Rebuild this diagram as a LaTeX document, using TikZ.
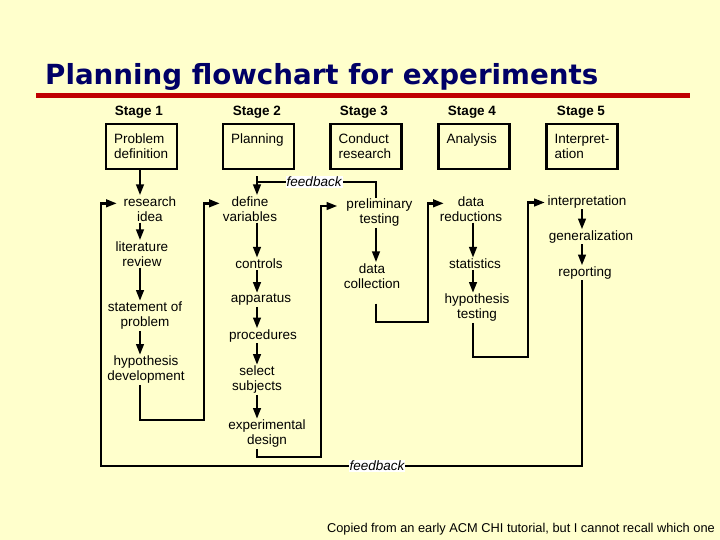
\documentclass[tikz,border=0pt]{standalone}
\usepackage{fontspec}
\setmainfont{Liberation Sans}
\newfontfamily\titlefont{DejaVu Sans}
\usetikzlibrary{arrows.meta,calc}
\definecolor{paper}{HTML}{FFFFCC}
\definecolor{titleblue}{HTML}{000066}
\definecolor{rulered}{HTML}{C00000}
\newcommand\bodysize{\fontsize{13.5}{15}\selectfont}
\tikzset{
  stagehead/.style={font=\bfseries\bodysize, anchor=base, inner sep=0pt},
  stagebox/.style={draw, line width=2.2pt, font=\bodysize, text width=55pt, align=left,
    inner xsep=8pt, inner ysep=4pt, text height=16pt, text depth=21pt},
  task/.style={font=\bodysize, align=center, inner sep=1pt},
  flow/.style={line width=2.6pt, -{Triangle[length=11pt,width=7.5pt]}},
  wire/.style={line width=2.6pt},
  fb/.style={font=\itshape\bodysize, text=black, fill=white, inner sep=1pt}
}
\begin{document}
\begin{tikzpicture}[x=1pt,y=-1pt]
	\fill[paper] (0,0) rectangle (720,540);
	\useasboundingbox (0,0) rectangle (720,540);
	% title and rule
	\node[anchor=base west, inner sep=0pt, text=titleblue,
		font={\titlefont\bfseries\fontsize{27.7}{30}\selectfont}] (title) at (45,85) {Planning flowchart for experiments};
	\draw[rulered, line width=5pt] (36,95.5) -- (690,95.5);
	% stages
	\node[stagehead] (h1) at (139,116) {Stage 1};
	\node[stagehead] (h2) at (257,116) {Stage 2};
	\node[stagehead] (h3) at (364,116) {Stage 3};
	\node[stagehead] (h4) at (472,116) {Stage 4};
	\node[stagehead] (h5) at (581,116) {Stage 5};
	\node[stagebox] (b1) at (141.5,146.5) {\mbox{Problem}\\\mbox{definition}};
	\node[stagebox] (b2) at (258.5,146.5) {Planning};
	\node[stagebox] (b3) at (366,146.5) {Conduct\\research};
	\node[stagebox] (b4) at (474,146.5) {Analysis};
	\node[stagebox] (b5) at (582,146.5) {\mbox{Interpret-}\\ation};
	% columns and corners
	\coordinate (c1) at (140,0);
	\coordinate (c2) at (257,0);
	\coordinate (c3) at (376,0);
	\coordinate (c4) at (473,0);
	\coordinate (c5) at (582,0);
	\coordinate (k1) at (204,420);
	\coordinate (k2) at (321,457);
	\coordinate (k3) at (428,322);
	\coordinate (k4) at (528,357);
	\coordinate (k5) at (101,466);
	\coordinate (fbtop) at (257,182);
	% stage 1
	\node[task] (idea) at (150,209) {research\\idea};
	\node[task] (lit) at (142,254) {literature\\review};
	\node[task] (stmt) at (145,316) {statement of\\problem};
	\node[task] (hypdev) at (146,370) {hypothesis\\development};
	% stage 2
	\node[task] (defvar) at (250,209) {define\\variables};
	\node[task] (ctrl) at (259,264) {controls};
	\node[task] (app) at (261,300) {apparatus};
	\node[task] (proc) at (263,336) {procedures};
	\node[task] (subj) at (257,380) {select\\subjects};
	\node[task] (expdes) at (267,434) {experimental\\design};
	% stage 3
	\node[task] (prelim) at (379.5,213) {preliminary\\testing};
	\node[task] (datacol) at (372,276) {data\\collection};
	% stage 4
	\node[task] (datared) at (471,209) {data\\reductions};
	\node[task] (stats) at (475,264) {statistics};
	\node[task] (hyptest) at (477,308) {hypothesis\\testing};
	% stage 5
	\node[task] (interp) at (587,202) {interpretation};
	\node[task] (general) at (591,237) {generalization};
	\node[task] (report) at (585,273) {reporting};
	% down the columns
	\draw[flow] (c1 |- b1.south) -- (c1 |- idea.north);
	\draw[flow] (c1 |- idea.south) -- (c1 |- lit.north);
	\draw[flow] (c1 |- lit.south) -- (c1 |- stmt.north);
	\draw[flow] (c1 |- stmt.south) -- (c1 |- hypdev.north);
	\draw[flow, shorten <=6pt] (c2 |- b2.south) -- (c2 |- defvar.north);
	\draw[flow] (c2 |- defvar.south) -- (c2 |- ctrl.north);
	\draw[flow] (c2 |- ctrl.south) -- (c2 |- app.north);
	\draw[flow] (c2 |- app.south) -- (c2 |- proc.north);
	\draw[flow] (c2 |- proc.south) -- (c2 |- subj.north);
	\draw[flow] (c2 |- subj.south) -- (c2 |- expdes.north);
	\draw[flow] (c3 |- prelim.south) -- (c3 |- datacol.north);
	\draw[flow] (c4 |- datared.south) -- (c4 |- stats.north);
	\draw[flow] (c4 |- stats.south) -- (c4 |- hyptest.north);
	\draw[flow] (c5 |- interp.south) -- (c5 |- general.north);
	\draw[flow] (c5 |- general.south) -- (c5 |- report.north);
	% on to the next stage
	\draw[flow] (c1 |- hypdev.south) |- (k1) |- ($(defvar.north)+(-30,8)$);
	\draw[flow] (c2 |- expdes.south) |- (k2) |- ($(prelim.north)+(-42,8)$);
	\draw[flow, shorten <=14pt] (c3 |- datacol.south) |- (k3) |- ($(datared.north)+(-27,8)$);
	\draw[flow] (c4 |- hyptest.south) |- (k4) |- ($(interp.north)+(-42,8)$);
	% feedback
	\draw[wire] (c3 |- prelim.north) |- (fbtop) node[fb, pos=0.76] {feedback};
	\draw[flow] (c5 |- report.south) |- node[fb, pos=0.713] {feedback} (k5) |- ($(idea.north)+(-33,8)$);
	\node[anchor=base east, inner sep=0pt, font=\fontsize{12.8}{14}\selectfont] (credit) at (715,532) {Copied from an early ACM CHI tutorial, but I cannot recall which one};
\end{tikzpicture}
\end{document}
